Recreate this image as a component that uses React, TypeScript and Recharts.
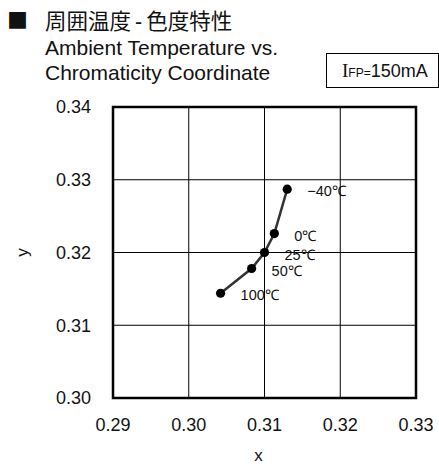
import { ScatterChart, Scatter, XAxis, YAxis, CartesianGrid, ReferenceArea, Label } from 'recharts';

const temps = ['100℃', '50℃', '25℃', '0℃', '−40℃'];
const xValues = [0.3042, 0.3083, 0.31, 0.3113, 0.313];
const yValues = [0.3144, 0.3178, 0.32, 0.3226, 0.3287];
const xTicks = [0.29, 0.3, 0.31, 0.32, 0.33];
const yTicks = [0.3, 0.31, 0.32, 0.33, 0.34];

const data = temps.map((t, i) => ({ temp: t, x: xValues[i], y: yValues[i] }));

const latin = '"Liberation Sans", Arial, sans-serif';
const serif = '"Liberation Serif", "Times New Roman", serif';
const cjk = '"Noto Sans CJK JP", "Noto Sans", sans-serif';

const PointWithLabel = (props: any) => {
  const { cx, cy, payload } = props;
  return (
    <g>
      <circle cx={cx} cy={cy} r={4.6} fill="#000" />
      <text x={cx + 20} y={cy + 2} dy="0.35em" fontSize={14.5} fill="#111" fontFamily={latin}>
        {payload.temp}
      </text>
    </g>
  );
};

const fmt = (v: number) => v.toFixed(2);

export default function App() {
  return (
    <div style={{ position: 'absolute', left: 0, top: 0, width: 439, height: 464, background: '#fff', overflow: 'hidden' }}>
      <div style={{ position: 'absolute', left: 7, top: 9, fontFamily: cjk, fontSize: 21, lineHeight: '21px', color: '#111' }}>■</div>
      <div style={{ position: 'absolute', left: 45, top: 9, fontFamily: cjk, fontSize: 21.5, lineHeight: '21px', color: '#111', whiteSpace: 'nowrap' }}>
        周囲温度<span style={{ fontFamily: latin, margin: '0 4px' }}>-</span>色度特性
      </div>
      <div style={{ position: 'absolute', left: 45, top: 37, fontFamily: latin, fontSize: 21, lineHeight: '21px', color: '#111', whiteSpace: 'nowrap' }}>
        Ambient Temperature vs.
      </div>
      <div style={{ position: 'absolute', left: 45, top: 62, fontFamily: latin, fontSize: 21, lineHeight: '21px', color: '#111', whiteSpace: 'nowrap' }}>
        Chromaticity Coordinate
      </div>
      <div
        style={{
          position: 'absolute',
          left: 326,
          top: 53,
          width: 113,
          height: 35,
          boxSizing: 'border-box',
          border: '1px solid #000',
          paddingLeft: 15,
          fontFamily: latin,
          fontSize: 18,
          lineHeight: '33px',
          color: '#111',
          whiteSpace: 'nowrap',
        }}
      >
        <span style={{ fontFamily: serif, fontSize: 19 }}>I</span>
        <span style={{ fontSize: 12 }}>FP=</span>150mA
      </div>
      <div style={{ position: 'absolute', left: 0, top: 0 }}>
        <ScatterChart width={439} height={464} margin={{ top: 107, right: 23, bottom: 0, left: 0 }}>
          <CartesianGrid stroke="#000" strokeWidth={1} />
          <XAxis
            type="number"
            dataKey="x"
            domain={[0.29, 0.33]}
            ticks={xTicks}
            tickFormatter={fmt}
            height={66}
            tickLine={false}
            tickSize={0}
            tickMargin={20}
            axisLine={false}
            tick={{ fill: '#111', fontSize: 18, fontFamily: latin }}
            allowDataOverflow
          >
            <Label value="x" position="insideBottom" offset={3} dx={-6} fill="#111" fontSize={17} fontFamily={latin} />
          </XAxis>
          <YAxis
            type="number"
            dataKey="y"
            domain={[0.3, 0.34]}
            ticks={yTicks}
            tickFormatter={fmt}
            width={113}
            tickLine={false}
            tickSize={0}
            tickMargin={22}
            axisLine={false}
            tick={{ fill: '#111', fontSize: 18, fontFamily: latin }}
            allowDataOverflow
          >
            <Label
              content={({ viewBox }: any) => (
                <text
                  x={22}
                  y={viewBox.y + viewBox.height / 2}
                  transform={`rotate(-90, 22, ${viewBox.y + viewBox.height / 2})`}
                  textAnchor="middle"
                  dy="0.35em"
                  fill="#111"
                  fontSize={17}
                  fontFamily={latin}
                >
                  y
                </text>
              )}
            />
          </YAxis>
          <ReferenceArea x1={0.29} x2={0.33} y1={0.3} y2={0.34} fill="none" stroke="#000" strokeWidth={2.5} fillOpacity={0} />
          <Scatter
            data={data}
            line={{ stroke: '#333', strokeWidth: 2.5 }}
            shape={PointWithLabel}
            isAnimationActive={false}
          />
        </ScatterChart>
      </div>
    </div>
  );
}
